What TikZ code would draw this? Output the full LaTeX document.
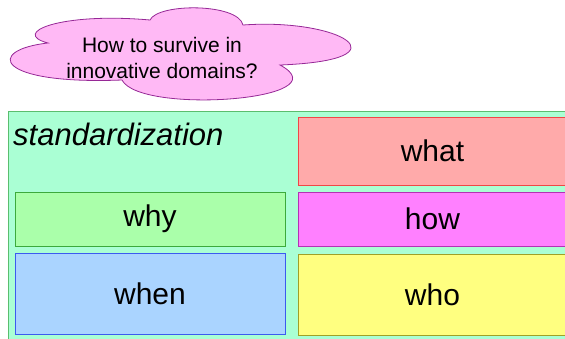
\documentclass[tikz,border=0pt]{standalone}
\usepackage{fontspec}
\setmainfont{Liberation Sans}

\definecolor{mintfill}{RGB}{170,255,212}
\definecolor{mintline}{RGB}{90,190,110}
\definecolor{whatfill}{RGB}{255,170,170}
\definecolor{whatline}{RGB}{240,70,70}
\definecolor{whyfill}{RGB}{170,255,170}
\definecolor{whyline}{RGB}{60,170,60}
\definecolor{howfill}{RGB}{255,128,255}
\definecolor{howline}{RGB}{180,50,180}
\definecolor{whenfill}{RGB}{170,212,255}
\definecolor{whenline}{RGB}{60,90,240}
\definecolor{whofill}{RGB}{255,255,128}
\definecolor{wholine}{RGB}{160,160,40}
\definecolor{cloudfill}{RGB}{255,185,245}
\definecolor{cloudline}{RGB}{150,40,150}

\tikzset{
  cell/.style={draw, line width=0.8pt, inner sep=0pt, font=\fontsize{30}{36}\selectfont},
}

\begin{document}
\begin{tikzpicture}[x=1pt, y=-1pt]
    \useasboundingbox (0,0) rectangle (565,338);
    \draw[line width=0.8pt, draw=cloudline, fill=cloudfill]
        (48,43) .. controls (10,33) and (60,12) .. (150,20)
        .. controls (158,3) and (238,3) .. (243,25)
        .. controls (340,18) and (410,60) .. (280,65)
        .. controls (345,100) and (140,115) .. (122,80)
        .. controls (-5,85) and (-15,50) .. (48,43) -- cycle;
    \node[align=center, inner sep=0pt, font=\fontsize{21}{26}\selectfont] (question) at (162,58)
        {How to survive in\\innovative domains?};
    \draw[line width=0.8pt, draw=mintline, fill=mintfill] (8,111) rectangle (580,350);
    \node[anchor=base west, inner sep=0pt, font=\itshape\fontsize{31}{36}\selectfont] (std) at (13,145) {standardization};
    \node[cell, fill=whatfill, draw=whatline, minimum width=269pt, minimum height=68pt] (what) at (432.5,151) {what};
    \node[cell, fill=whyfill, draw=whyline, minimum width=270pt, minimum height=54pt] (why) at (150,219) {why};
    \node[cell, fill=howfill, draw=howline, minimum width=269pt, minimum height=54pt] (how) at (432.5,219) {how};
    \node[cell, fill=whenfill, draw=whenline, minimum width=270pt, minimum height=81pt] (when) at (150,293.5) {when};
    \node[cell, fill=whofill, draw=wholine, minimum width=269pt, minimum height=81pt] (who) at (432.5,294.5) {who};
\end{tikzpicture}
\end{document}
